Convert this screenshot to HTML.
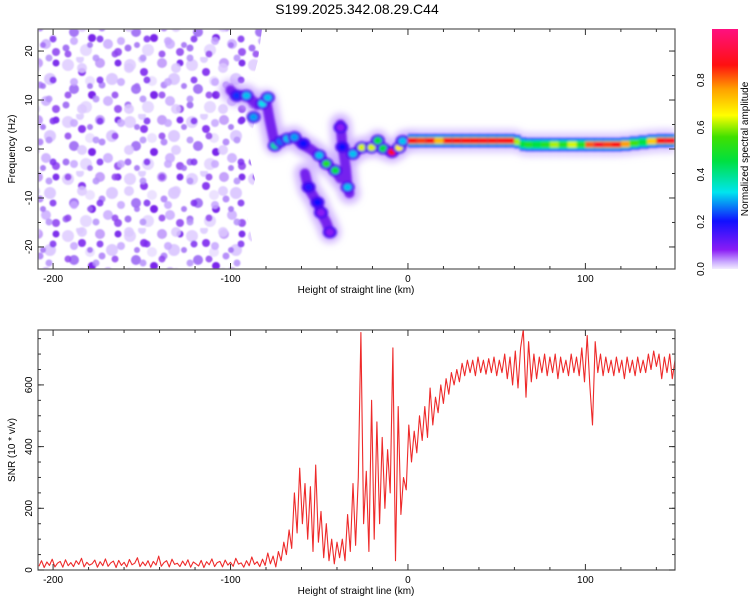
<!DOCTYPE html>
<html><head><meta charset="utf-8">
<style>
html,body{margin:0;padding:0;background:#fff;}
svg{display:block;font-family:"Liberation Sans",sans-serif;}
</style></head>
<body>
<svg id="chart" width="750" height="600" viewBox="0 0 750 600" xmlns="http://www.w3.org/2000/svg">
<defs>
  <filter id="blur2" x="-20%" y="-20%" width="140%" height="140%"><feGaussianBlur stdDeviation="1.3"/></filter>
  <filter id="blur4" x="-50%" y="-50%" width="200%" height="200%"><feGaussianBlur stdDeviation="3.5"/></filter>
  <filter id="blur1"><feGaussianBlur stdDeviation="0.9"/></filter>
  <pattern id="noiseA" width="62" height="57" patternUnits="userSpaceOnUse">
    <circle cx="6" cy="8" r="6" fill="#e3d3ff"/><circle cx="20" cy="15" r="4" fill="#8a3cf0"/>
    <circle cx="38" cy="6" r="5" fill="#c6a3fb"/><circle cx="50" cy="22" r="6" fill="#ddcaff"/>
    <circle cx="12" cy="32" r="5" fill="#a678f5"/><circle cx="30" cy="38" r="4" fill="#7a28ea"/>
    <circle cx="46" cy="44" r="5" fill="#d2b8ff"/><circle cx="56" cy="52" r="4" fill="#9b5af2"/>
    <circle cx="24" cy="50" r="6" fill="#e6d9ff"/><circle cx="4" cy="48" r="3.5" fill="#a676f4"/>
    <circle cx="40" cy="28" r="3.5" fill="#b890fa"/><circle cx="28" cy="24" r="5" fill="#ece2ff"/>
    <circle cx="56" cy="6" r="3.5" fill="#7e30ec"/><circle cx="18" cy="2" r="4" fill="#e0d0ff"/>
  </pattern>
  <pattern id="noiseB" width="47" height="41" patternUnits="userSpaceOnUse" patternTransform="translate(13,7)">
    <circle cx="8" cy="6" r="3.5" fill="#8f44f0"/><circle cx="22" cy="20" r="5" fill="#dcc8ff"/>
    <circle cx="36" cy="10" r="3.5" fill="#b590fa"/><circle cx="40" cy="32" r="3.5" fill="#7d2df0"/>
    <circle cx="14" cy="34" r="4" fill="#c7a6ff"/><circle cx="30" cy="38" r="3" fill="#a06cf5"/>
  </pattern>
  <clipPath id="topClip"><rect x="38" y="29" width="637" height="240"/></clipPath>
  <clipPath id="botClip"><rect x="38" y="330" width="637" height="240"/></clipPath>
  <clipPath id="noiseClip"><polygon points="38,29 262,29 258,60 250,90 255,120 248,150 255,180 246,210 252,240 246,269 38,269"/></clipPath>
  <linearGradient id="cmapGrad" x1="0" y1="1" x2="0" y2="0">
    <stop offset="0" stop-color="#f3ecff"/><stop offset="0.03" stop-color="#c9a8ff"/>
    <stop offset="0.08" stop-color="#8a1cf5"/><stop offset="0.2" stop-color="#1010ff"/>
    <stop offset="0.32" stop-color="#00e5ee"/><stop offset="0.45" stop-color="#00e040"/>
    <stop offset="0.55" stop-color="#40e000"/><stop offset="0.64" stop-color="#ffff00"/>
    <stop offset="0.75" stop-color="#ffa000"/><stop offset="0.85" stop-color="#ff1010"/>
    <stop offset="1" stop-color="#ff1080"/>
  </linearGradient>
</defs>

<text x="357" y="14" font-size="14" text-anchor="middle">S199.2025.342.08.29.C44</text>

<g id="top">
  <g clip-path="url(#topClip)">
    <g clip-path="url(#noiseClip)" filter="url(#blur1)">
      <rect x="38" y="29" width="230" height="240" fill="url(#noiseA)"/>
      <rect x="38" y="29" width="230" height="240" fill="url(#noiseB)" opacity="0.85"/>
    </g>
    <g id="halo" filter="url(#blur4)"></g>
    <g id="ridge" filter="url(#blur2)"></g>
  </g>
  <rect x="38" y="29" width="637" height="240" fill="none" stroke="#555" stroke-width="1.2"/>
  <g id="topAxes"></g>
  <text transform="translate(15,149) rotate(-90)" font-size="10" text-anchor="middle">Frequency (Hz)</text>
  <text x="356" y="293" font-size="10" text-anchor="middle">Height of straight line (km)</text>
</g>

<g id="cbar">
  <rect x="712" y="29" width="26" height="240" fill="url(#cmapGrad)"/>
  <g id="cbarTicks"></g>
  <text transform="translate(748,149) rotate(-90)" font-size="10" text-anchor="middle">Normalized spectral amplitude</text>
</g>

<g id="bottom">
  <g clip-path="url(#botClip)"><path id="snrLine" fill="none" stroke="#ee2a2a" stroke-width="1.1" stroke-linejoin="round"/></g>
  <rect x="38" y="330" width="637" height="240" fill="none" stroke="#555" stroke-width="1.2"/>
  <g id="botAxes"></g>
  <text transform="translate(15,450) rotate(-90)" font-size="10" text-anchor="middle">SNR (10 * v/v)</text>
  <text x="356" y="594" font-size="10" text-anchor="middle">Height of straight line (km)</text>
</g>
</svg>

<script>
const NS="http://www.w3.org/2000/svg";
// ---- data ----
const xTicks=[-200,-100,0,100];
const freqTicks=[-20,-10,0,10,20];
const snrTicks=[0,200,400,600];
const cbarTicks=[0.0,0.2,0.4,0.6,0.8];
// ridge chains (km, Hz) — purple trace underneath the blobs
const chainA_km=[-100,-97,-91,-85,-80,-78,-75,-70,-64,-60,-55,-50,-46,-41,-38];
const chainA_hz=[12,11,11,9,10,6,1,2,2.4,1,0,-1.3,-3,-4.4,-6];
const chainB_km=[-58,-56,-51,-49,-46,-44];
const chainB_hz=[-5,-8,-11,-13,-15,-17];
const chainC_km=[-38,-37,-35,-34,-33];
const chainC_hz=[5,1,-4,-8,-9];
const chainD_km=[-31,-26,-20,-17,-14,-9,-5,-2,0];
const chainD_hz=[-1,0.3,0.5,1.7,0.1,-0.6,0.3,1.6,1.7];
// spectral ridge peaks (km, Hz, normalized amplitude)
const ridgeKm=[-96.5,-91,-87,-82,-79,-75,-72,-68,-64,-59,-56,-51,-50,-49,-46,-44,-41,-38,-37,-34,-31,-26,-20.5,-17,-14,-9,-5,-3];
const ridgeHz=[10.9,10.9,6.5,9.3,10.5,0.7,1.5,2.1,2.4,1.1,-7.8,-10.9,-1.3,-13,-3,-17,-4.4,4.4,0.4,-7.8,-1,0.3,0.3,1.7,0.1,-0.6,0.3,1.6];
const ridgeAmp=[0.22,0.3,0.28,0.32,0.3,0.38,0.25,0.3,0.28,0.2,0.18,0.2,0.3,0.1,0.5,0.1,0.45,0.1,0.2,0.3,0.3,0.62,0.62,0.45,0.45,0.85,0.65,0.3];
// continuous band right of 0 km
const bandKm=[0,5,10,15,20,25,30,35,40,45,50,55,60,63,66,70,75,80,85,90,95,100,105,110,115,120,125,130,135,140,145,150];
const bandHz=[1.7,1.7,1.7,1.7,1.7,1.7,1.7,1.7,1.7,1.7,1.7,1.7,1.5,1.0,0.9,0.9,0.9,0.9,0.9,0.9,0.9,0.9,0.9,0.9,0.9,1.0,1.2,1.4,1.6,1.7,1.7,1.7];
const bandAmp=[0.85,0.82,0.85,0.72,0.85,0.85,0.85,0.85,0.86,0.85,0.86,0.85,0.6,0.45,0.5,0.45,0.5,0.6,0.5,0.62,0.5,0.8,0.88,0.82,0.85,0.75,0.55,0.45,0.7,0.85,0.88,0.85];
// SNR series, sampled every 1.5 km from -208 km
const snrStart=-208, snrStep=1.5;
const snrValues=[12,30,8,26,15,35,10,22,28,9,33,14,24,11,30,18,38,10,25,16,
20,32,9,27,14,36,12,23,29,8,31,15,25,10,34,17,22,40,11,26,
14,30,9,28,16,45,12,24,30,10,35,18,22,11,29,15,33,9,26,20,
13,31,8,27,17,36,11,24,28,10,32,16,25,12,38,19,23,9,30,14,
42,18,27,11,
35,15,55,20,45,10,60,30,90,50,130,70,250,120,330,150,280,100,270,60,
340,90,190,40,150,30,100,20,90,40,100,30,180,60,280,80,300,770,150,320,
60,550,100,480,150,430,200,390,250,720,30,530,180,300,260,470,350,450,380,500,
420,530,430,590,470,560,510,600,540,620,570,640,600,650,610,670,630,680,640,680,
630,690,640,680,635,685,640,690,630,680,640,700,620,690,600,710,590,720,780,560,
740,610,700,620,690,640,700,630,690,640,700,620,690,640,680,630,700,640,690,630,
720,610,760,600,470,740,640,700,630,690,640,680,630,690,640,680,620,690,640,680,
630,690,640,680,640,700,650,710,660,700,620,690,640,700,620,680];
// ---- scales ----
const X0=-208.5,X1=150.5,PL=38,PR=675;
const xs=v=>PL+(v-X0)/(X1-X0)*(PR-PL);
const fy=v=>149-(v)*(240/49);
const sy=v=>570-v*(240/778);
function cmap(a){
  const st=[[0,[243,236,255]],[0.05,[180,140,255]],[0.1,[138,28,245]],[0.2,[16,16,255]],[0.32,[0,229,238]],[0.45,[0,224,64]],[0.55,[64,224,0]],[0.64,[255,255,0]],[0.75,[255,160,0]],[0.85,[255,16,16]],[1,[255,16,128]]];
  for(let i=1;i<st.length;i++){if(a<=st[i][0]){const t=(a-st[i-1][0])/(st[i][0]-st[i-1][0]);const c=st[i-1][1].map((v,k)=>Math.round(v+(st[i][1][k]-v)*t));return 'rgb('+c.join(',')+')';}}
  return 'rgb(255,16,128)';
}
function mk(tag,attrs,parent){const e=document.createElementNS(NS,tag);for(const k in attrs)e.setAttribute(k,attrs[k]);parent.appendChild(e);return e;}
// ---- spectrogram ----
const halo=document.getElementById('halo'),ridge=document.getElementById('ridge');
[[chainA_km,chainA_hz],[chainB_km,chainB_hz],[chainC_km,chainC_hz],[chainD_km,chainD_hz]].forEach(ch=>{
  const pts=ch[0].map((k,i)=>xs(k).toFixed(1)+','+fy(ch[1][i]).toFixed(1)).join(' ');
  const h=mk('polyline',{points:pts,fill:'none',stroke:'#c8a6ff','stroke-width':22,'stroke-linejoin':'round','stroke-linecap':'round',opacity:0.8},halo);
  
  
  const p=mk('polyline',{points:pts,fill:'none',stroke:'#7424ee','stroke-width':10,'stroke-linejoin':'round','stroke-linecap':'round'},ridge);
  
  
});
for(let i=0;i<ridgeKm.length;i++){
  const o=mk('ellipse',{cx:xs(ridgeKm[i]),cy:fy(ridgeHz[i]),rx:7,ry:6,fill:'#4a10f0'},ridge);
  
  
  const c=mk('ellipse',{cx:xs(ridgeKm[i]),cy:fy(ridgeHz[i]),rx:4,ry:3.5,fill:cmap(ridgeAmp[i])},ridge);
  
  
}
for(let i=0;i<bandKm.length-1;i++){
  const x=xs(bandKm[i]),w=xs(bandKm[i+1])-x+1,y=fy(bandHz[i]);
  const h=mk('rect',{x:x,y:y-12,width:w,height:24,fill:'#d2bcff',opacity:0.75},halo);
  
  
  const b=mk('rect',{x:x,y:y-6.5,width:w,height:13,fill:'#1a20ff'},ridge);
  
  
  const m=mk('rect',{x:x,y:y-4.5,width:w,height:9,fill:'#00e0c0'},ridge);
  
  
  const c=mk('rect',{x:x,y:y-3,width:w,height:6,fill:cmap(bandAmp[i])},ridge);
  
  
}
// ---- axes ----
function axes(g,yTicks,ys,top,bot,minorStep,yMin,yMax){
  const G=document.getElementById(g);
  xTicks.forEach(v=>{const x=xs(v);
    mk('line',{x1:x,x2:x,y1:bot,y2:bot-6,stroke:'#333'},G);mk('line',{x1:x,x2:x,y1:top,y2:top+6,stroke:'#333'},G);
    const t=mk('text',{x:x,y:bot+13,'font-size':10,'text-anchor':'middle'},G);t.textContent=v;
    
    
  });
  for(let v=-200;v<=150;v+=20){if(v%100===0)continue;const x=xs(v);
    mk('line',{x1:x,x2:x,y1:bot,y2:bot-3,stroke:'#333'},G);mk('line',{x1:x,x2:x,y1:top,y2:top+3,stroke:'#333'},G);}
  for(let v=yMin;v<=yMax;v+=minorStep){const y=ys(v);
    mk('line',{x1:PL,x2:PL+3,y1:y,y2:y,stroke:'#333'},G);mk('line',{x1:PR,x2:PR-3,y1:y,y2:y,stroke:'#333'},G);}
  yTicks.forEach(v=>{const y=ys(v);
    mk('line',{x1:PL,x2:PL+6,y1:y,y2:y,stroke:'#333'},G);mk('line',{x1:PR,x2:PR-6,y1:y,y2:y,stroke:'#333'},G);
    const t=mk('text',{x:0,y:0,'font-size':10,'text-anchor':'middle',transform:'translate('+(PL-6)+','+y+') rotate(-90)'},G);t.textContent=v;
    
    
  });
}
axes('topAxes',freqTicks,fy,29,269,5,-20,20);
axes('botAxes',snrTicks,sy,330,570,50,0,750);
// colorbar ticks
const CB=document.getElementById('cbarTicks');
cbarTicks.forEach(v=>{const y=269-v*236;
  const t=mk('text',{x:0,y:0,'font-size':10,'text-anchor':'middle',transform:'translate(704,'+y+') rotate(-90)'},CB);t.textContent=v.toFixed(1);
  
  
});
// ---- SNR line ----
let d='';
snrValues.forEach((v,i)=>{const x=xs(snrStart+i*snrStep);d+=(i?'L':'M')+x.toFixed(1)+','+sy(v).toFixed(1);});
document.getElementById('snrLine').setAttribute('d',d);
</script>
</body></html>
